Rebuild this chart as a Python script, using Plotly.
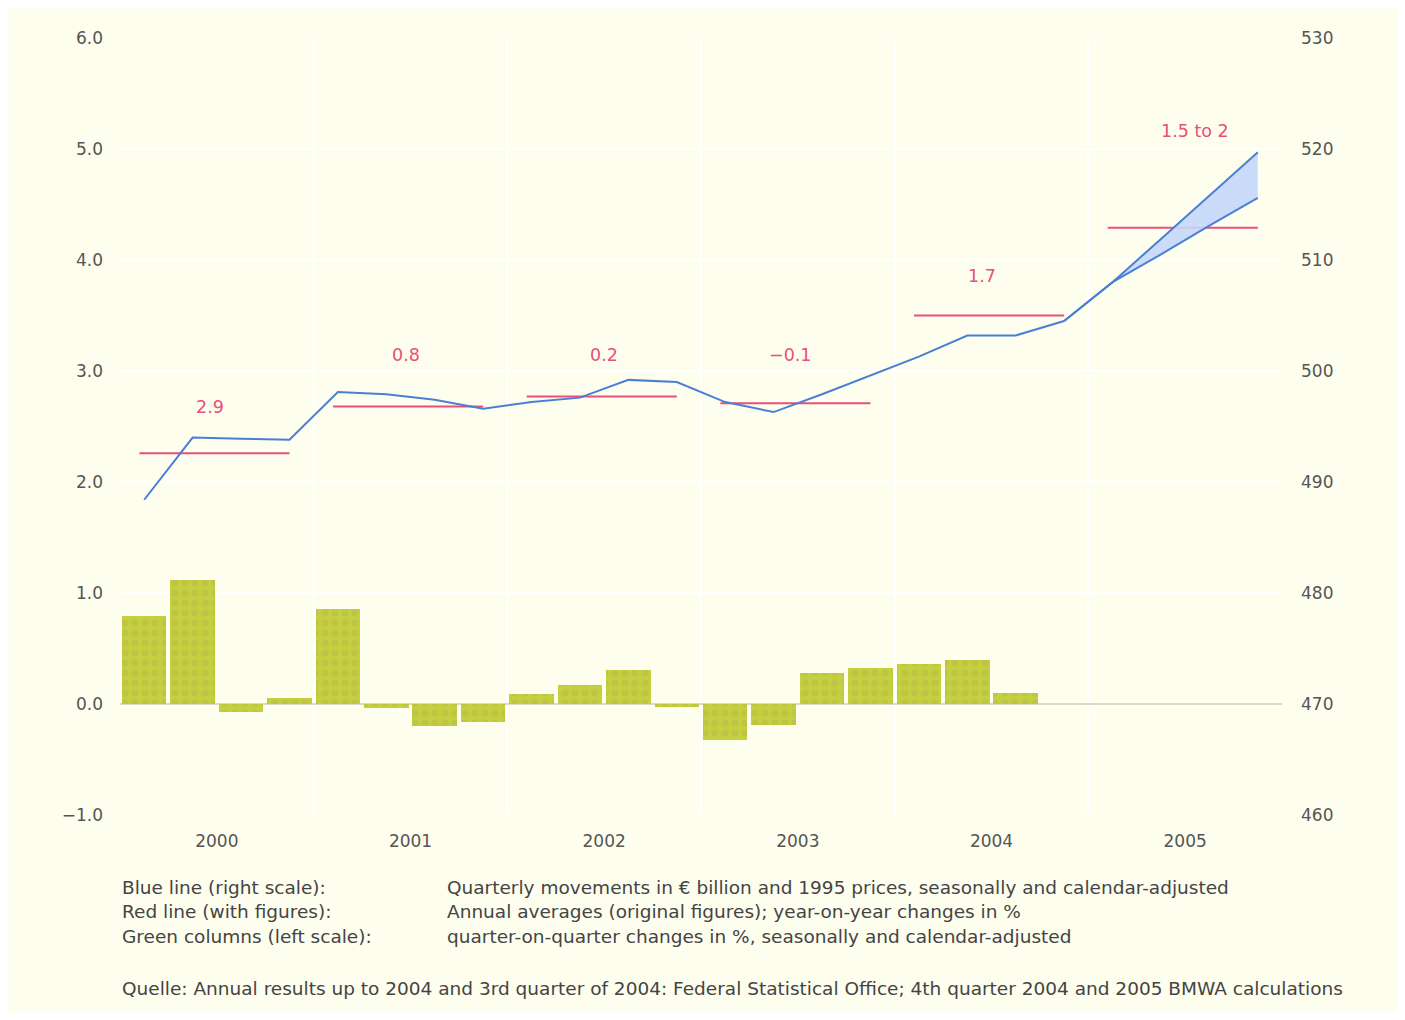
import plotly.graph_objects as go

# ---------------- data ----------------
years = ["2000", "2001", "2002", "2003", "2004", "2005"]

# green columns: quarter-on-quarter changes in % (2000Q1 .. 2004Q3)
bar_values = [0.79, 1.12, -0.07, 0.05,
              0.86, -0.04, -0.20, -0.16,
              0.09, 0.17, 0.31, -0.03,
              -0.32, -0.19, 0.28, 0.32,
              0.36, 0.40, 0.10]

# blue line: quarterly GDP, EUR bn, 1995 prices (2000Q1 .. 2004Q4)
blue_values = [488.4, 494.0, 493.9, 493.8,
               498.1, 497.9, 497.4, 496.6,
               497.2, 497.6, 499.2, 499.0,
               497.2, 496.3, 497.9, 499.6,
               501.3, 503.2, 503.2, 504.5]

# forecast band (2004Q4 .. 2005Q4)
forecast_upper = [504.5, 508.0, 511.9, 515.8, 519.7]
forecast_lower = [504.5, 508.0, 510.5, 513.1, 515.6]

# red line: annual averages (right scale) and year-on-year changes
annual_avg = [492.6, 496.8, 497.7, 497.1, 505.0, 512.9]
annual_labels = ["2.9", "0.8", "0.2", "\u22120.1", "1.7", "1.5 to 2"]

footer_left = ["Blue line (right scale):", "Red line (with figures):", "Green columns (left scale):"]
footer_right = ["Quarterly movements in \u20ac billion and 1995 prices, seasonally and calendar-adjusted",
                "Annual averages (original figures); year-on-year changes in %",
                "quarter-on-quarter changes in %, seasonally and calendar-adjusted"]
source_note = ("Quelle: Annual results up to 2004 and 3rd quarter of 2004: Federal Statistical Office; "
               "4th quarter 2004 and 2005 BMWA calculations")

# ---------------- layout helpers ----------------
label_y = [496.8, 501.4, 501.4, 501.4, 508.6, 521.6]  # annotation anchor heights (right scale)
label_dx = [-0.15, -0.1, 0.0, -0.15, -0.2, 0.2]         # small horizontal nudges (quarters)

BG = "#fefeee"
FONT = "DejaVu Sans, Liberation Sans, Arial, sans-serif"
GREEN = "#c4d03e"
BLUE = "#4a7fd4"
RED = "#ea4f7a"

qx = lambda i: i + 0.5  # quarter index -> x position

fig = go.Figure()

fig.add_trace(go.Bar(
    x=[qx(i) for i in range(len(bar_values))], y=bar_values,
    width=0.92,
    marker=dict(color=GREEN, line=dict(width=0),
                pattern=dict(shape=".", fgcolor="#bab84c", bgcolor=GREEN, size=10, solidity=0.4)),
    yaxis="y", showlegend=False, hoverinfo="skip",
))

# red annual-average segments
rx, ry = [], []
for k, v in enumerate(annual_avg):
    rx += [4 * k + 0.4, 4 * k + 3.5, None]
    ry += [v, v, None]
fig.add_trace(go.Scatter(x=rx, y=ry, mode="lines", line=dict(color=RED, width=2),
                         yaxis="y2", showlegend=False, hoverinfo="skip"))

# forecast band
fx = [qx(19 + i) for i in range(len(forecast_upper))]
fig.add_trace(go.Scatter(x=fx, y=forecast_lower, mode="lines", line=dict(color=BLUE, width=2),
                         yaxis="y2", showlegend=False, hoverinfo="skip"))
fig.add_trace(go.Scatter(x=fx, y=forecast_upper, mode="lines", line=dict(color=BLUE, width=2),
                         fill="tonexty", fillcolor="rgba(196,216,250,0.9)",
                         yaxis="y2", showlegend=False, hoverinfo="skip"))

# blue line
fig.add_trace(go.Scatter(x=[qx(i) for i in range(len(blue_values))], y=blue_values,
                         mode="lines", line=dict(color=BLUE, width=2),
                         yaxis="y2", showlegend=False, hoverinfo="skip"))

annotations = []
for k, (t, ly, dx) in enumerate(zip(annual_labels, label_y, label_dx)):
    annotations.append(dict(x=4 * k + 2 + dx, y=ly, xref="x", yref="y2", text=t, showarrow=False,
                            font=dict(family=FONT, size=17.5, color=RED)))

row_y = [-0.0927, -0.1248, -0.157]
FOOT = 18.5
for yy, a, b in zip(row_y, footer_left, footer_right):
    annotations.append(dict(x=0, y=yy, xref="paper", yref="paper", text=a, showarrow=False,
                            xanchor="left", yanchor="middle", font=dict(family=FONT, size=FOOT, color="#444")))
    annotations.append(dict(x=0.2797, y=yy, xref="paper", yref="paper", text=b, showarrow=False,
                            xanchor="left", yanchor="middle", font=dict(family=FONT, size=FOOT, color="#444")))
annotations.append(dict(x=0, y=-0.2227, xref="paper", yref="paper", text=source_note, showarrow=False,
                        xanchor="left", yanchor="middle", font=dict(family=FONT, size=FOOT, color="#444")))

fig.update_layout(
    width=1389, height=1004,
    margin=dict(l=112, r=115, t=30, b=197),
    paper_bgcolor=BG, plot_bgcolor=BG,
    font=dict(family=FONT, size=17, color="#555"),
    bargap=0,
    xaxis=dict(range=[0, 24], tickmode="array", tickvals=[4 * k + 2 for k in range(6)], ticktext=years,
               showgrid=False, zeroline=False, showline=False, ticks="", ticklabelstandoff=14,
               minor=dict(tickmode="array", tickvals=[4 * k for k in range(7)], showgrid=True,
                          gridcolor="white", gridwidth=2)),
    yaxis=dict(range=[-1, 6], dtick=1, tickformat=".1f", showgrid=True, gridcolor="white", gridwidth=2,
               zeroline=True, zerolinecolor="#dcd9cc", zerolinewidth=1.5, showline=False, ticks="",
               ticklabelstandoff=16),
    yaxis2=dict(range=[460, 530], dtick=10, overlaying="y", side="right", showgrid=False,
                zeroline=False, showline=False, ticks="", ticklabelstandoff=18),
    annotations=annotations,
)

fig.write_html("out.html")
